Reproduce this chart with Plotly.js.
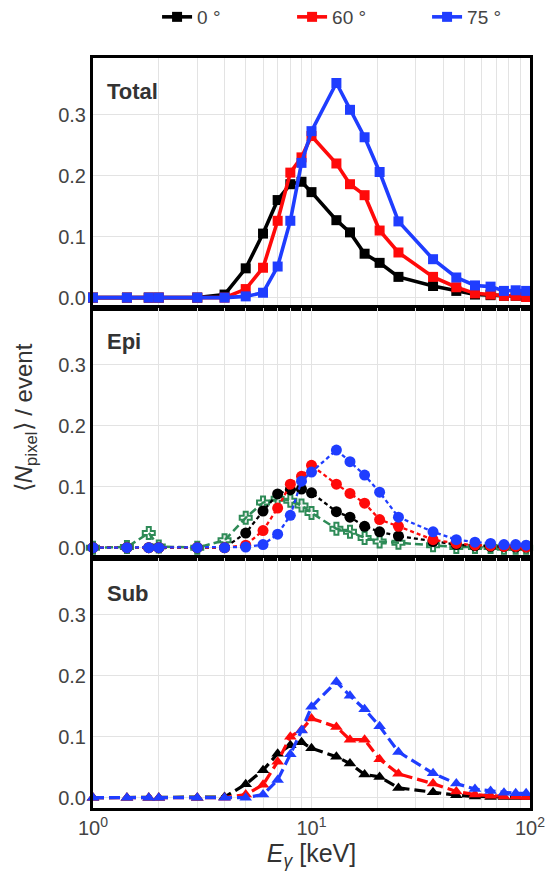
<!DOCTYPE html>
<html>
<head>
<meta charset="utf-8">
<script src="https://cdn.plot.ly/plotly-3.0.1.min.js"></script>
<style>html,body{margin:0;padding:0;background:#fff;}</style>
</head>
<body>
<div id="chart" style="width:547px;height:872px;"></div>
<script>
// Energies [keV]
const energy = [1.0, 1.43, 1.8, 2.0, 3.0, 4.0, 5.0, 6.0, 7.0, 8.0, 9.0, 10.0, 13.0, 15.0, 17.5, 20.5, 25.0, 36.0, 46.0, 56.0, 66.0, 76.0, 86.0, 96.0];
const angleLabels = ['0 °', '60 °', '75 °'];

// Total
const total0  = [0, 0, 0, 0, 0, 0.005, 0.048, 0.105, 0.160, 0.186, 0.190, 0.173, 0.127, 0.107, 0.072, 0.057, 0.034, 0.019, 0.011, 0.005, 0.004, 0.003, 0.003, 0.002];
const total60 = [0, 0, 0, 0, 0, 0, 0.014, 0.049, 0.126, 0.205, 0.230, 0.265, 0.220, 0.186, 0.168, 0.110, 0.074, 0.034, 0.017, 0.007, 0.005, 0.003, 0.003, 0.001];
const total75 = [0, 0, 0, 0, 0, 0, 0.002, 0.008, 0.051, 0.126, 0.221, 0.273, 0.352, 0.308, 0.263, 0.206, 0.125, 0.063, 0.033, 0.020, 0.018, 0.011, 0.012, 0.011];

// Epi
const epi0  = [0, 0, 0, 0, 0, 0, 0.024, 0.060, 0.088, 0.095, 0.096, 0.090, 0.059, 0.050, 0.035, 0.026, 0.019, 0.010, 0.005, 0.003, 0.002, 0.002, 0.001, 0.001];
const epi60 = [0, 0, 0, 0, 0, 0, 0.004, 0.028, 0.065, 0.104, 0.117, 0.135, 0.104, 0.089, 0.073, 0.046, 0.035, 0.013, 0.007, 0.004, 0.003, 0.002, 0.002, 0.001];
const epi75 = [0, 0, 0, 0, 0, 0, 0.001, 0.005, 0.022, 0.053, 0.109, 0.124, 0.160, 0.141, 0.119, 0.091, 0.050, 0.026, 0.013, 0.009, 0.007, 0.005, 0.005, 0.004];
const epiGreen = [0, 0.001, 0.024, 0.002, 0, 0.012, 0.049, 0.074, 0.080, 0.077, 0.069, 0.057, 0.031, 0.026, 0.016, 0.010, 0.008, 0.004, 0.001, 0.001, 0.001, 0, 0, 0];

// Sub
const sub0  = [0, 0, 0, 0, 0, 0.001, 0.022, 0.045, 0.072, 0.086, 0.091, 0.081, 0.067, 0.056, 0.038, 0.034, 0.016, 0.009, 0.004, 0.002, 0.001, 0.001, 0.001, 0.001];
const sub60 = [0, 0, 0, 0, 0, 0, 0.005, 0.021, 0.059, 0.100, 0.111, 0.130, 0.116, 0.095, 0.095, 0.063, 0.039, 0.023, 0.010, 0.005, 0.003, 0.002, 0.002, 0.001];
const sub75 = [0, 0, 0, 0, 0, 0, 0, 0.005, 0.029, 0.071, 0.110, 0.149, 0.190, 0.167, 0.145, 0.117, 0.075, 0.040, 0.023, 0.014, 0.011, 0.008, 0.007, 0.007];

const xTickVals = [1, 10, 100];
const xTickText = ['10<sup>0</sup>', '10<sup>1</sup>', '10<sup>2</sup>'];
const yTickVals = [0, 0.1, 0.2, 0.3];

const colors = ['#000000', '#ff0a0a', '#1f3dff'];
const green = '#2e8b57';

const traces = [];
const totals = [total0, total60, total75];
const epis = [epi0, epi60, epi75];
const subs = [sub0, sub60, sub75];

for (let i = 0; i < 3; i++) {
  traces.push({
    x: energy, y: totals[i], xaxis: 'x', yaxis: 'y', name: angleLabels[i],
    mode: 'lines+markers', cliponaxis: false,
    line: {color: colors[i], width: 3.6},
    marker: {symbol: 'square', size: 10, color: colors[i]},
    showlegend: true
  });
}
traces.push({
  x: energy, y: epiGreen, xaxis: 'x2', yaxis: 'y2', name: 'green',
  mode: 'lines+markers', cliponaxis: false,
  line: {color: green, width: 2.5, dash: '8px,4px'},
  marker: {symbol: 'cross-open', size: 10, color: green, line: {width: 2, color: green}},
  showlegend: false
});
for (let i = 0; i < 3; i++) {
  traces.push({
    x: energy, y: epis[i], xaxis: 'x2', yaxis: 'y2', name: angleLabels[i],
    mode: 'lines+markers', cliponaxis: false,
    line: {color: colors[i], width: 2.3, dash: '4px,3px'},
    marker: {symbol: 'circle', size: 11, color: colors[i]},
    showlegend: false
  });
}
for (let i = 0; i < 3; i++) {
  traces.push({
    x: energy, y: subs[i], xaxis: 'x3', yaxis: 'y3', name: angleLabels[i],
    mode: 'lines+markers', cliponaxis: false,
    line: {color: colors[i], width: 3.2, dash: '11px,5px'},
    marker: {symbol: 'triangle-up', size: 11, color: colors[i]},
    showlegend: false
  });
}

const tickFont = {family: 'Liberation Sans, Arial, sans-serif', size: 20, color: '#444'};

function xax(anchor, showLabels) {
  return {
    type: 'log', range: [0, 2], anchor: anchor, matches: anchor === 'y3' ? undefined : 'x3',
    showline: true, linecolor: '#000', linewidth: 3, mirror: true,
    showgrid: true, gridcolor: '#e3e3e3', gridwidth: 1,
    minor: {showgrid: true, gridcolor: '#e3e3e3', gridwidth: 1, dtick: 'D1'},
    tickvals: xTickVals, ticktext: xTickText, showticklabels: showLabels,
    ticks: '', zeroline: false, tickfont: tickFont
  };
}
function yax(domain, anchor) {
  return {
    domain: domain, anchor: anchor, range: [-0.017, 0.393],
    showline: true, linecolor: '#000', linewidth: 3, mirror: true,
    showgrid: true, gridcolor: '#e3e3e3', gridwidth: 1,
    tickvals: yTickVals, tickformat: '.1f', ticks: '', zeroline: false,
    tickfont: tickFont, ticklabelstandoff: 0
  };
}

const x3 = xax('y3', true);
x3.title = {text: '<i>E</i><sub><i>γ</i></sub> [keV]', font: {family: 'Liberation Sans, Arial, sans-serif', size: 25, color: '#333'}, standoff: 4};

const panelFont = {family: 'Liberation Sans, Arial, sans-serif', size: 22, color: '#333'};
const layout = {
  width: 547, height: 872,
  margin: {l: 93, r: 17, t: 58, b: 64, autoexpand: false},
  paper_bgcolor: '#fff', plot_bgcolor: '#fff',
  showlegend: true,
  legend: {orientation: 'h', x: 0.61, xanchor: 'center', y: 1.08, yanchor: 'top',
           font: {family: 'Liberation Sans, Arial, sans-serif', size: 19, color: '#444'},
           entrywidth: 90, entrywidthmode: 'pixels', traceorder: 'normal', bgcolor: 'rgba(0,0,0,0)'},
  xaxis: xax('y', false),
  yaxis: yax([0.6667, 1], 'x'),
  xaxis2: xax('y2', false),
  yaxis2: yax([0.3333, 0.6667], 'x2'),
  xaxis3: x3,
  yaxis3: yax([0, 0.3333], 'x3'),
  annotations: [
    {text: '<b>Total</b>', xref: 'x domain', yref: 'y domain', x: 0.028, y: 0.864, xanchor: 'left', yanchor: 'middle', showarrow: false, font: panelFont},
    {text: '<b>Epi</b>', xref: 'x2 domain', yref: 'y2 domain', x: 0.028, y: 0.864, xanchor: 'left', yanchor: 'middle', showarrow: false, font: panelFont},
    {text: '<b>Sub</b>', xref: 'x3 domain', yref: 'y3 domain', x: 0.028, y: 0.86, xanchor: 'left', yanchor: 'middle', showarrow: false, font: panelFont},
    {text: '⟨<i>N</i><sub>pixel</sub>⟩ / event', xref: 'paper', yref: 'paper', x: -0.155, y: 0.52, xanchor: 'center', yanchor: 'middle', textangle: -90, showarrow: false,
     font: {family: 'Liberation Sans, Arial, sans-serif', size: 24, color: '#333'}}
  ]
};

Plotly.newPlot('chart', traces, layout, {displayModeBar: false, staticPlot: true});
</script>
</body>
</html>
